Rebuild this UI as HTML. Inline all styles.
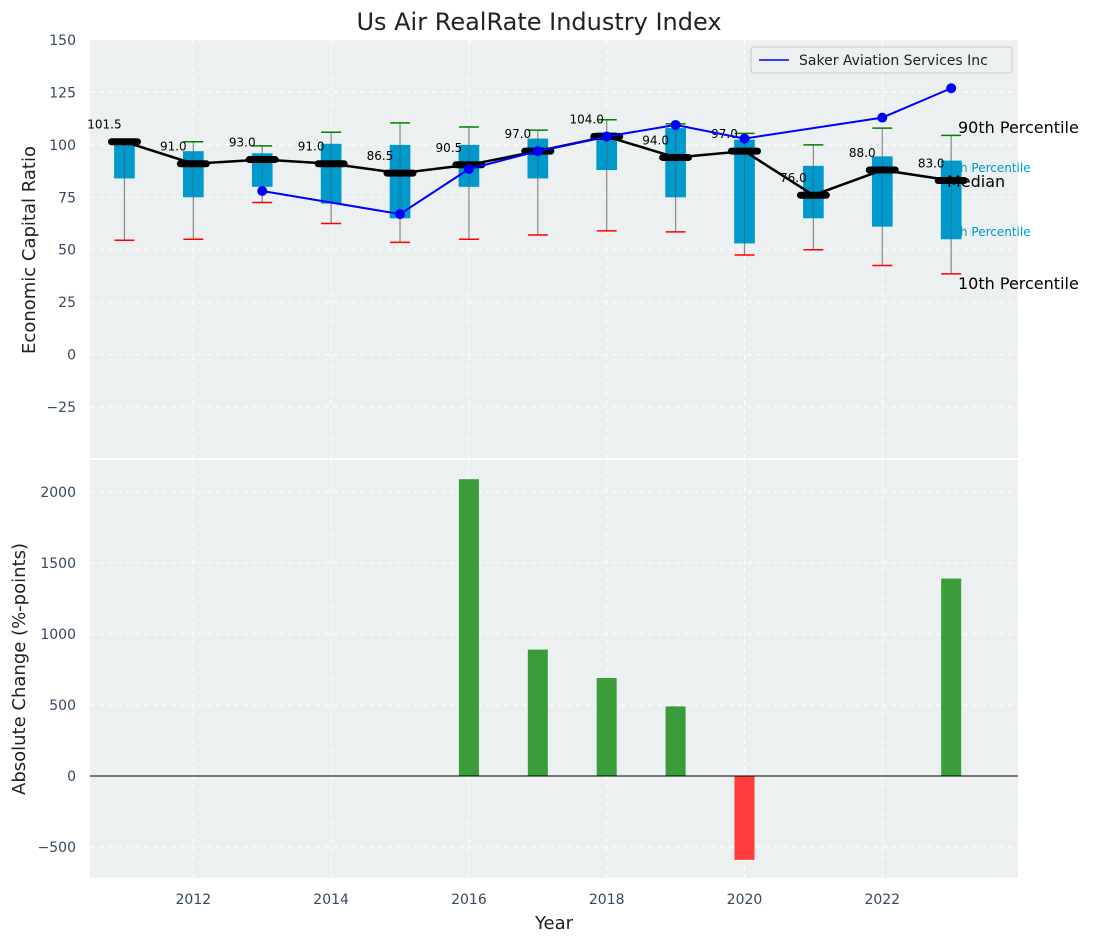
<!DOCTYPE html>
<html><head><meta charset="utf-8"><style>
body{margin:0;background:#fff;}
svg{display:block;font-family:"DejaVu Sans","Liberation Sans",sans-serif;}
.tick{fill:#34495e;font-size:14px;}
</style></head><body>
<svg id="chart" width="1093" height="942" xmlns="http://www.w3.org/2000/svg"></svg>
<script>
const years=[2011,2012,2013,2014,2015,2016,2017,2018,2019,2020,2021,2022,2023];
const medians=[101.5,91.0,93.0,91.0,86.5,90.5,97.0,104.0,94.0,97.0,76.0,88.0,83.0];
const q75=[102,97,96,100.5,100,100,103,106,108,102.5,90,94.5,92.5];
const q25=[84,75,80,72,65,80,84,88,75,53,65,61,55];
const p90=[101.5,101.5,99.5,106,110.5,108.5,107,112,110,105.5,100,108,104.5];
const p10=[54.5,55,72.5,62.5,53.5,55,57,59,58.5,47.5,50,42.5,38.5];
const companyYears=[2013,2015,2016,2017,2018,2019,2020,2022,2023];
const companyValues=[78,67,88.5,97,104,109.5,103,113,127];
const changeYears=[2016,2017,2018,2019,2020,2023];
const changeValues=[2090,890,690,490,-590,1390];
const topTicks=[-25,0,25,50,75,100,125,150];
const botTicks=[-500,0,500,1000,1500,2000];
const xTicks=[2012,2014,2016,2018,2020,2022];

const NS='http://www.w3.org/2000/svg';
const svg=document.getElementById('chart');
function mk(tag,attrs,parent,text){const e=document.createElementNS(NS,tag);for(const k in attrs)e.setAttribute(k,attrs[k]);if(text!==undefined)e.textContent=text;(parent||svg).appendChild(e);return e;}
const L=90,R=1018;
const X=v=>L+(v-2010.5)/(2023.97-2010.5)*(R-L);
const T0=40,T1=458,B0=460,B1=878;
const Y1=v=>T0+(150-v)/(150-(-49.3))*(T1-T0);
const Y2=v=>B0+(2225-v)/(2225-(-718))*(B1-B0);

let e;
e=mk('rect',{x:L,y:T0,width:R-L,height:T1-T0,fill:'#ecf0f1'});

e=mk('rect',{x:L,y:B0,width:R-L,height:B1-B0,fill:'#ecf0f1'});


topTicks.forEach(t=>{
  mk('line',{x1:L,x2:R,y1:Y1(t),y2:Y1(t),stroke:'#fff','stroke-dasharray':'5,4','stroke-width':1});
  e=mk('text',{x:L-14,y:Y1(t)+5,'text-anchor':'end',class:'tick'},svg,t<0?'\u2212'+Math.abs(t):t);
  
});
botTicks.forEach(t=>{
  mk('line',{x1:L,x2:R,y1:Y2(t),y2:Y2(t),stroke:'#fff','stroke-dasharray':'5,4','stroke-width':1});
  e=mk('text',{x:L-14,y:Y2(t)+5,'text-anchor':'end',class:'tick'},svg,t<0?'\u2212'+Math.abs(t):t);
  
});
xTicks.forEach(t=>{
  mk('line',{x1:X(t),x2:X(t),y1:T0,y2:T1,stroke:'#fff','stroke-dasharray':'5,4'});
  mk('line',{x1:X(t),x2:X(t),y1:B0,y2:B1,stroke:'#fff','stroke-dasharray':'5,4'});
  e=mk('text',{x:X(t),y:B1+26,'text-anchor':'middle',class:'tick'},svg,t);
  
});

const hw=(X(2011.15)-X(2011));
years.forEach((y,i)=>{
  const cx=X(y);
  e=mk('line',{x1:cx,x2:cx,y1:Y1(p90[i]),y2:Y1(p10[i]),stroke:'#888','stroke-width':1.2});
  
  e=mk('rect',{x:cx-hw,y:Y1(q75[i]),width:2*hw,height:Y1(q25[i])-Y1(q75[i]),fill:'#0099cc'});
  
  mk('line',{x1:cx,x2:cx,y1:Y1(q75[i]),y2:Y1(q25[i]),stroke:'#555','stroke-width':1,opacity:0.5});
  e=mk('line',{x1:cx-10,x2:cx+10,y1:Y1(p90[i]),y2:Y1(p90[i]),stroke:'green','stroke-width':1.5});
  
  e=mk('line',{x1:cx-10,x2:cx+10,y1:Y1(p10[i]),y2:Y1(p10[i]),stroke:'red','stroke-width':1.5});
  
});
e=mk('polyline',{points:years.map((y,i)=>X(y)+','+Y1(medians[i])).join(' '),fill:'none',stroke:'#000','stroke-width':2.5});

years.forEach((y,i)=>{
  e=mk('line',{x1:X(y)-13,x2:X(y)+13,y1:Y1(medians[i]),y2:Y1(medians[i]),stroke:'#000','stroke-width':7,'stroke-linecap':'round'});
  
  e=mk('text',{x:X(y)-20,y:Y1(medians[i])-13,'text-anchor':'middle','font-size':12,fill:'#000'},svg,medians[i].toFixed(1));
  
});
e=mk('polyline',{points:companyYears.map((y,i)=>X(y)+','+Y1(companyValues[i])).join(' '),fill:'none',stroke:'#0000ff','stroke-width':2});

companyYears.forEach((y,i)=>{
  e=mk('circle',{cx:X(y),cy:Y1(companyValues[i]),r:5,fill:'#0000ff'});
  
});
const ann=[[958,133,'90th Percentile','#000',16],[940,172,'75th Percentile','#0099cc',12],[947,187,'Median','#000',16],[940,236,'25th Percentile','#0099cc',12],[958,289,'10th Percentile','#000',16]];
ann.forEach(a=>{e=mk('text',{x:a[0],y:a[1],fill:a[3],'font-size':a[4]},svg,a[2]);});
const lg=mk('g',{});
mk('rect',{x:751,y:47,width:261,height:26,rx:3,fill:'#ecf0f1',stroke:'#ccc'},lg);
mk('line',{x1:759,x2:789,y1:60,y2:60,stroke:'#0000ff','stroke-width':1.5},lg);
mk('text',{x:799,y:65,'font-size':14,fill:'#222'},lg,'Saker Aviation Services Inc');

changeYears.forEach((y,i)=>{
  const v=changeValues[i];
  e=mk('rect',{x:X(y)-10,y:Math.min(Y2(v),Y2(0)),width:20,height:Math.abs(Y2(v)-Y2(0)),fill:v>=0?'#3a9d3a':'#ff3b3b'});
  
});
mk('line',{x1:L,x2:R,y1:Y2(0),y2:Y2(0),stroke:'#000','stroke-width':1});

e=mk('text',{x:539,y:30,'text-anchor':'middle','font-size':24,fill:'#222'},svg,'Us Air RealRate Industry Index');

e=mk('text',{x:0,y:0,'text-anchor':'middle','font-size':18,fill:'#222',transform:'translate(35,250) rotate(-90)'},svg,'Economic Capital Ratio');

e=mk('text',{x:0,y:0,'text-anchor':'middle','font-size':18,fill:'#222',transform:'translate(25,669) rotate(-90)'},svg,'Absolute Change (%-points)');

e=mk('text',{x:554,y:929,'text-anchor':'middle','font-size':18,fill:'#222'},svg,'Year');

</script>
</body></html>
